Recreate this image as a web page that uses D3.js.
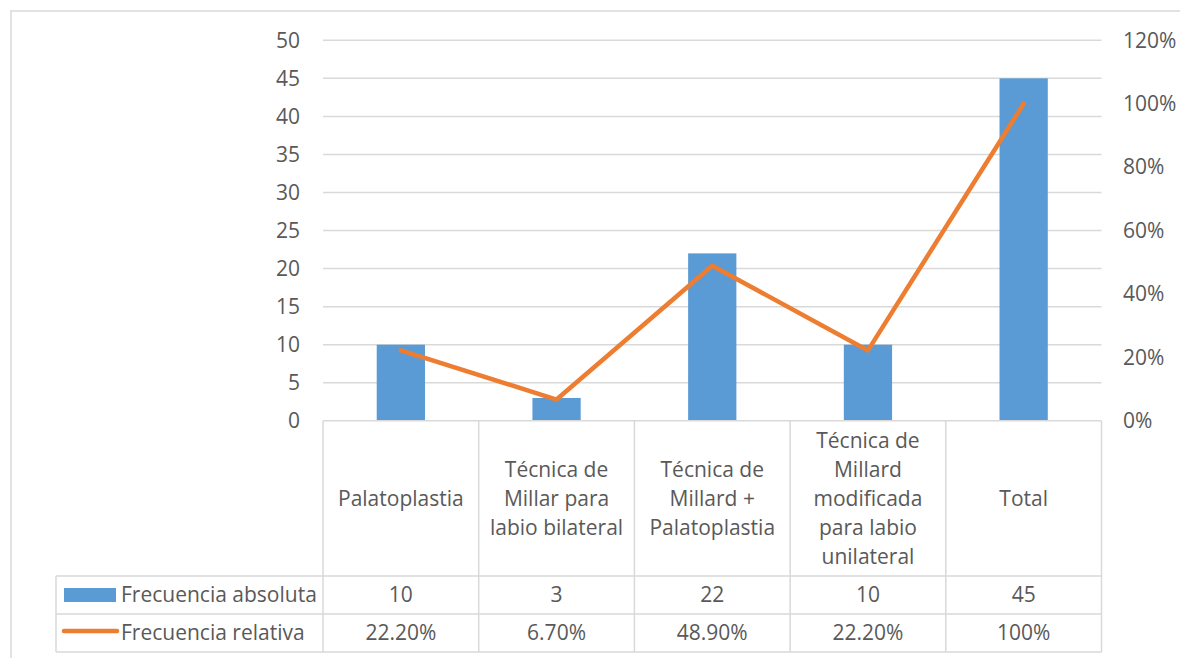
<!DOCTYPE html>
<html>
<head>
<meta charset="utf-8">
<script src="https://cdn.jsdelivr.net/npm/d3@7"></script>
<style>
  body { margin: 0; background: #fff; }
  svg { display: block; font-family: "Open Sans", sans-serif; }
  text { fill: #595959; }
</style>
</head>
<body>
<div id="graph"></div>
<script>
"use strict";

var categories = ["Palatoplastia", "Técnica de Millar para labio bilateral",
    "Técnica de Millard + Palatoplastia", "Técnica de Millard modificada para labio unilateral", "Total"];
var absoluta = [10, 3, 22, 10, 45];
var relativa = [22.2, 6.7, 48.9, 22.2, 100];
var absolutaLabels = ["10", "3", "22", "10", "45"];
var relativaLabels = ["22.20%", "6.70%", "48.90%", "22.20%", "100%"];
var seriesNames = ["Frecuencia absoluta", "Frecuencia relativa"];
var leftTicks = [0, 5, 10, 15, 20, 25, 30, 35, 40, 45, 50];
var rightTicks = [0, 20, 40, 60, 80, 100, 120];

var width = 1180, height = 658;
var margin = {top: 40.3, left: 323, right: 1101.5, bottom: 420.8};
var rowTop = [420.8, 576, 614, 652];
var legendLeft = 56;
var fontSize = 21;
var gridColor = "#d9d9d9";
var blue = "#5b9bd5", orange = "#ed7d31";

var svg = d3.select("#graph").append("svg")
    .attr("width", width)
    .attr("height", height);

// outer chart border (runs off the right and bottom edges)
svg.append("rect")
    .attr("x", 11).attr("y", 11)
    .attr("width", width + 20).attr("height", height + 20)
    .attr("fill", "none")
    .attr("stroke", gridColor)
    .attr("stroke-width", 1.5);

var x = d3.scaleBand()
    .domain(categories)
    .range([margin.left, margin.right])
    .padding(0);

var y = d3.scaleLinear().domain([0, 50]).range([margin.bottom, margin.top]);
var y2 = d3.scaleLinear().domain([0, 120]).range([margin.bottom, margin.top]);

// gridlines
svg.append("g")
    .selectAll("line")
    .data(leftTicks.slice(1))
    .enter().append("line")
    .attr("x1", margin.left).attr("x2", margin.right)
    .attr("y1", function (d) { return y(d); })
    .attr("y2", function (d) { return y(d); })
    .attr("stroke", gridColor)
    .attr("stroke-width", 1.5);

// left axis
var leftAxis = svg.append("g")
    .attr("transform", "translate(" + (margin.left - 23) + ",0)")
    .call(d3.axisLeft(y).tickValues(leftTicks).tickSize(0).tickPadding(0));
leftAxis.select(".domain").remove();
leftAxis.selectAll("text")
    .attr("font-size", fontSize)
    .attr("font-family", "Open Sans")
    .attr("fill", "#595959");

// right axis
var rightAxis = svg.append("g")
    .attr("transform", "translate(" + (1123) + ",0)")
    .call(d3.axisRight(y2).tickValues(rightTicks).tickSize(0).tickPadding(0)
        .tickFormat(function (d) { return d + "%"; }));
rightAxis.select(".domain").remove();
rightAxis.selectAll("text")
    .attr("font-size", fontSize)
    .attr("font-family", "Open Sans")
    .attr("fill", "#595959");

// bars
var barW = x.bandwidth() * 0.31;
svg.append("g")
    .selectAll("rect")
    .data(absoluta)
    .enter().append("rect")
    .attr("x", function (d, i) { return x(categories[i]) + (x.bandwidth() - barW) / 2; })
    .attr("y", function (d) { return y(d); })
    .attr("width", barW)
    .attr("height", function (d) { return y(0) - y(d); })
    .attr("fill", blue);

// line
var line = d3.line()
    .x(function (d, i) { return x(categories[i]) + x.bandwidth() / 2; })
    .y(function (d) { return y2(d); });

svg.append("path")
    .datum(relativa)
    .attr("d", line)
    .attr("fill", "none")
    .attr("stroke", orange)
    .attr("stroke-width", 4.5)
    .attr("stroke-linejoin", "round")
    .attr("stroke-linecap", "round");

// data table
var table = svg.append("g").attr("stroke", gridColor).attr("stroke-width", 1.5);
// horizontal lines
table.append("line").attr("x1", margin.left).attr("x2", margin.right)
    .attr("y1", rowTop[0]).attr("y2", rowTop[0]);
[1, 2, 3].forEach(function (r) {
    table.append("line").attr("x1", legendLeft).attr("x2", margin.right)
        .attr("y1", rowTop[r]).attr("y2", rowTop[r]);
});
// vertical lines
x.domain().concat([null]).forEach(function (c) {
    var xx = c === null ? margin.right : x(c);
    table.append("line").attr("x1", xx).attr("x2", xx)
        .attr("y1", rowTop[0]).attr("y2", rowTop[3]);
});
table.append("line").attr("x1", legendLeft).attr("x2", legendLeft)
    .attr("y1", rowTop[1]).attr("y2", rowTop[3]);

// category labels, wrapped inside each cell
var lineH = 29;
var catG = svg.append("g");
categories.forEach(function (c) {
    var t = catG.append("text")
        .attr("text-anchor", "middle")
        .attr("font-size", fontSize)
        .attr("x", x(c) + x.bandwidth() / 2);
    var words = c.split(" "), lines = [], cur = [];
    words.forEach(function (w) {
        cur.push(w);
        t.text(cur.join(" "));
        if (t.node().getComputedTextLength() > x.bandwidth() - 10 && cur.length > 1) {
            cur.pop();
            lines.push(cur.join(" "));
            cur = [w];
        }
    });
    lines.push(cur.join(" "));
    t.text(null);
    var cy = (rowTop[0] + rowTop[1]) / 2;
    var y0 = cy - (lines.length - 1) * lineH / 2;
    lines.forEach(function (l, i) {
        t.append("tspan")
            .attr("x", x(c) + x.bandwidth() / 2)
            .attr("y", y0 + i * lineH)
            .attr("dy", "0.35em")
            .text(l);
    });
});

// value rows
[absolutaLabels, relativaLabels].forEach(function (row, r) {
    svg.append("g")
        .selectAll("text")
        .data(row)
        .enter().append("text")
        .attr("text-anchor", "middle")
        .attr("font-size", fontSize)
        .attr("x", function (d, i) { return x(categories[i]) + x.bandwidth() / 2; })
        .attr("y", (rowTop[r + 1] + rowTop[r + 2]) / 2)
        .attr("dy", "0.35em")
        .text(function (d) { return d; });
});

// legend keys
var rowMid1 = (rowTop[1] + rowTop[2]) / 2, rowMid2 = (rowTop[2] + rowTop[3]) / 2;
svg.append("rect")
    .attr("x", 64).attr("y", rowMid1 - 7)
    .attr("width", 52).attr("height", 14)
    .attr("fill", blue);
svg.append("line")
    .attr("x1", 64).attr("x2", 117)
    .attr("y1", rowMid2 - 2).attr("y2", rowMid2 - 2)
    .attr("stroke", orange).attr("stroke-width", 4.5)
    .attr("stroke-linecap", "round");
svg.append("g")
    .selectAll("text")
    .data(seriesNames)
    .enter().append("text")
    .attr("x", 121)
    .attr("y", function (d, i) { return i === 0 ? rowMid1 : rowMid2; })
    .attr("dy", "0.35em")
    .attr("font-size", fontSize)
    .text(function (d) { return d; });
</script>
</body>
</html>
